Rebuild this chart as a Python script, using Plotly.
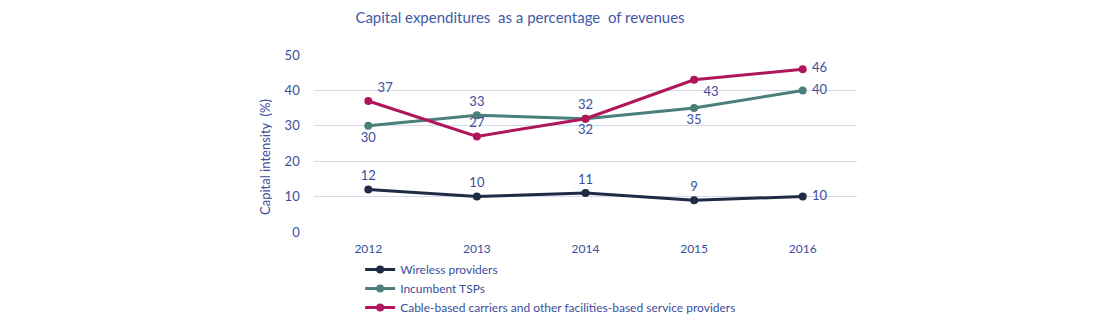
import plotly.graph_objects as go

years = ["2012", "2013", "2014", "2015", "2016"]
wireless = [12, 10, 11, 9, 10]
incumbent = [30, 33, 32, 35, 40]
cable = [37, 27, 32, 43, 46]

wireless_pos = ["top center", "top center", "top center", "top center", "middle right"]
incumbent_pos = ["bottom center", "top center", "bottom center", "bottom center", "middle right"]
cable_pos = ["top right", "top center", "top center", "bottom right", "middle right"]

names = [
    "Wireless providers",
    "Incumbent TSPs",
    "Cable-based carriers and other facilities-based service providers",
]
colors = ["#1F2A44", "#4A7F7A", "#B0175B"]
label_color = "#3B4E9C"
font_family = "Lato, Carlito, 'Open Sans', sans-serif"

fig = go.Figure()
for vals, pos, name, col in zip([wireless, incumbent, cable],
                                [wireless_pos, incumbent_pos, cable_pos],
                                names, colors):
    fig.add_trace(go.Scatter(
        x=years, y=vals, name=name,
        mode="lines+markers+text",
        line=dict(color=col, width=3),
        marker=dict(color=col, size=8),
        text=[" " + str(v) + " " for v in vals],
        textposition=pos,
        textfont=dict(color=label_color, size=13, family=font_family),
        cliponaxis=False,
    ))

# vertical axis caption, placed as an annotation for finer positioning
fig.add_annotation(
    text="Capital intensity  (%)", textangle=-90,
    xref="paper", yref="paper", x=-(314 - 265) / 543, y=0.424,
    xanchor="center", yanchor="middle", showarrow=False,
    font=dict(size=13, color=label_color, family=font_family),
)

fig.update_layout(
    width=1115, height=322,
    margin=dict(l=314, r=258, t=55, b=90, autoexpand=False),
    paper_bgcolor="white", plot_bgcolor="white",
    font=dict(family=font_family, color=label_color, size=13),
    title=dict(
        text="Capital expenditures  as a percentage  of revenues",
        x=520 / 1115, xanchor="center", y=0.945, yanchor="middle",
        font=dict(size=15, color="#3F5AA8", family=font_family),
    ),
    xaxis=dict(
        type="category", range=[-0.5, 4.5], showgrid=False, showline=False,
        zeroline=False, ticks="", ticklabelstandoff=8,
        tickfont=dict(size=12, color=label_color),
    ),
    yaxis=dict(
        range=[0, 50], dtick=10, showgrid=True, gridcolor="#D5D9EA",
        gridwidth=1, zeroline=False, showline=False, ticks="",
        tickfont=dict(size=13, color=label_color), ticksuffix="    ",
    ),
    showlegend=True,
    legend=dict(
        x=0.085, xanchor="left", y=-0.13, yanchor="top",
        orientation="v", font=dict(size=12, color=label_color),
        tracegroupgap=0, itemwidth=30, bgcolor="rgba(0,0,0,0)",
    ),
)

fig.write_html("out.html")
